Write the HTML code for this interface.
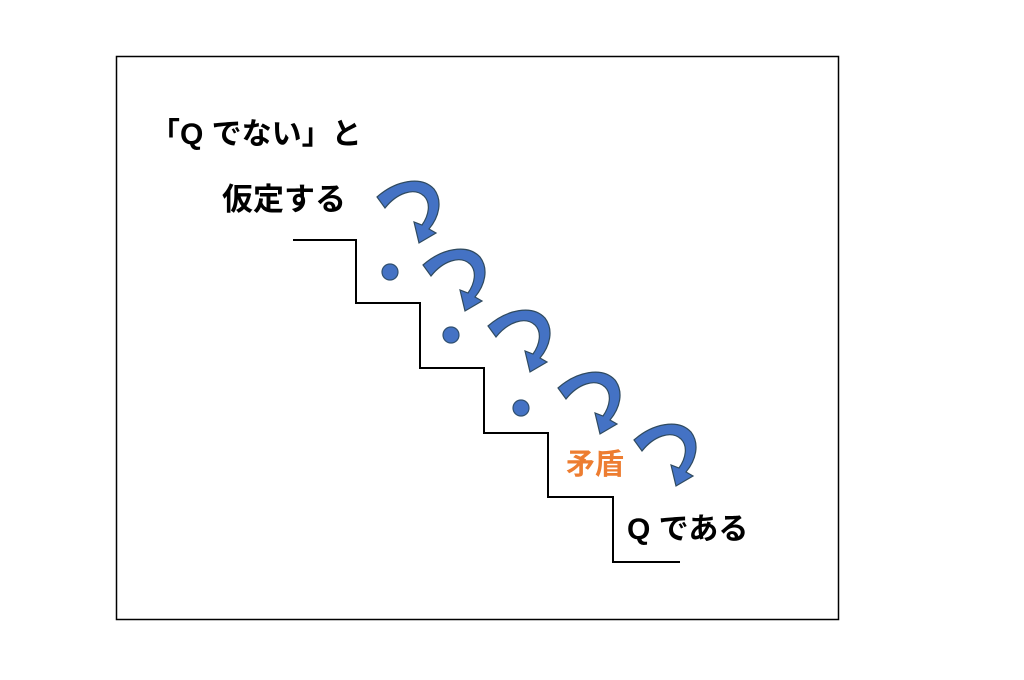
<!DOCTYPE html>
<html><head><meta charset="utf-8"><style>
html,body{margin:0;padding:0;background:#fff;width:1024px;height:680px;overflow:hidden}
.t{position:absolute;font-family:"Liberation Sans","Noto Sans CJK JP",sans-serif;font-weight:bold;white-space:nowrap;line-height:1}
</style></head><body>
<svg width="1024" height="680" style="position:absolute;left:0;top:0">
<rect x="116.5" y="56.5" width="722" height="563" fill="none" stroke="#000" stroke-width="1.5"/>
<polyline points="293,240 356,240 356,303 420,303 420,368 484,368 484,433 548,433 548,497 613,497 613,562 680,562" fill="none" stroke="#000" stroke-width="2"/>
<g fill="#4472c4" stroke="#2f4f6f" stroke-width="1.2">
<circle cx="390" cy="272" r="8"/>
<circle cx="451" cy="335" r="8"/>
<circle cx="521" cy="408" r="8"/>
</g>
<defs>
<path id="ar" d="M0,20 C18,4 44,-2 57,12 C66,24 62,40 52,52 L59,56 L42,66 L37,45 L45,48 C52,38 54,26 47,19 C37,10 20,16 8,31 Z"/>
</defs>
<g fill="#4472c4" stroke="#2f4a5f" stroke-width="1.2">
<use href="#ar" transform="translate(377,177)"/>
<use href="#ar" transform="translate(423,245)"/>
<use href="#ar" transform="translate(488,306)"/>
<use href="#ar" transform="translate(558,368)"/>
<use href="#ar" transform="translate(634,420)"/>
</g>
</svg>
<div class="t" style="left:150px;top:120px;font-size:30px;color:#000">「Q でない」と</div>
<div class="t" style="left:222px;top:184px;font-size:31px;color:#000">仮定する</div>
<div class="t" style="left:566px;top:451px;font-size:29px;color:#ed7d31">矛盾</div>
<div class="t" style="left:627px;top:515px;font-size:30px;color:#000">Q である</div>
</body></html>
